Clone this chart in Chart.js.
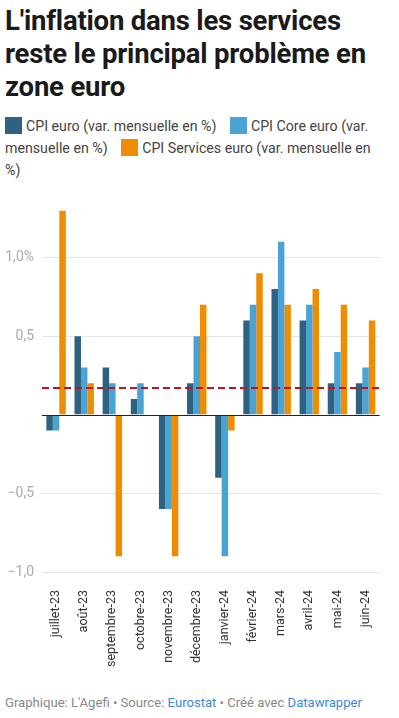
<!DOCTYPE html>
<html lang="fr">
<head>
<meta charset="utf-8">
<script src="https://cdn.jsdelivr.net/npm/chart.js@4"></script>
<style>
  body { margin: 0; width: 399px; height: 718px; background: #fff; font-family: Roboto, sans-serif; position: relative; overflow: hidden; }
  h1 { position: absolute; left: 5px; top: 4px; margin: 0; width: 390px; font-size: 27.5px; line-height: 33px; font-weight: 700; color: #1a1a1a; letter-spacing: -0.2px; }
  #legend { position: absolute; left: 5px; top: 115px; width: 385px; font-size: 14.2px; line-height: 22px; color: #444; }
  #legend .item { margin-right: 10px; }
  #legend .box { display: inline-block; width: 17px; height: 17px; vertical-align: -3px; margin-right: 4px; }
  #wrap { position: absolute; left: 0; top: 194px; width: 399px; height: 476px; }
  #footer { position: absolute; left: 5px; top: 695px; font-size: 13.1px; color: #888; }
  #footer a { color: #3b88d4; text-decoration: none; }
</style>
</head>
<body>
<h1>L'inflation dans les services reste le principal problème en zone euro</h1>
<div id="legend"></div>
<div id="wrap"><canvas id="chart"></canvas></div>
<div id="footer">Graphique: L'Agefi • Source: <a>Eurostat</a> • Créé avec <a>Datawrapper</a></div>
<script>
const categories = ['juillet-23', 'août-23', 'septembre-23', 'octobre-23', 'novembre-23', 'décembre-23',
    'janvier-24', 'février-24', 'mars-24', 'avril-24', 'mai-24', 'juin-24'];
const cpiEuro     = [-0.1, 0.5, 0.3, 0.1, -0.6, 0.2, -0.4, 0.6, 0.8, 0.6, 0.2, 0.2];
const cpiCore     = [-0.1, 0.3, 0.2, 0.2, -0.6, 0.5, -0.9, 0.7, 1.1, 0.7, 0.4, 0.3];
const cpiServices = [1.3, 0.2, -0.9, 0, -0.9, 0.7, -0.1, 0.9, 0.7, 0.8, 0.7, 0.6];
const seriesNames = ['CPI euro (var. mensuelle en %)', 'CPI Core euro (var. mensuelle en %)', 'CPI Services euro (var. mensuelle en %)'];
const yTicks = [-1, -0.5, 0, 0.5, 1];
const yTickLabels = ['\u22121,0', '\u22120,5', '', '0,5', '1,0%'];
const referenceValue = 0.17;

const colors = ['#2d6282', '#4aa3d2', '#ef8c00'];

// legende html
document.getElementById('legend').innerHTML = seriesNames.map((n, i) =>
    `<span class="item"><span class="box" style="background:${colors[i]}"></span>${n}</span>`).join(' ');

const overlay = {
    id: 'overlay',
    afterDatasetsDraw(chart) {
        const { ctx, chartArea, scales } = chart;
        ctx.save();
        // ligne zero
        const y0 = Math.round(scales.y.getPixelForValue(0)) + 0.5;
        ctx.strokeStyle = '#222';
        ctx.lineWidth = 1;
        ctx.beginPath();
        ctx.moveTo(chartArea.left, y0);
        ctx.lineTo(chartArea.right, y0);
        ctx.stroke();
        // ligne pointillee rouge
        const yr = scales.y.getPixelForValue(referenceValue);
        ctx.strokeStyle = '#c1121f';
        ctx.lineWidth = 2;
        ctx.setLineDash([7, 4]);
        ctx.beginPath();
        ctx.moveTo(chartArea.left, yr);
        ctx.lineTo(chartArea.right, yr);
        ctx.stroke();
        ctx.restore();
    }
};

new Chart(document.getElementById('chart'), {
    type: 'bar',
    data: {
        labels: categories,
        datasets: [cpiEuro, cpiCore, cpiServices].map((d, i) => ({
            label: seriesNames[i],
            data: d,
            backgroundColor: colors[i],
            barPercentage: 1,
            categoryPercentage: 0.69
        }))
    },
    options: {
        responsive: true,
        maintainAspectRatio: false,
        animation: false,
        layout: { padding: { top: 5, right: 10, left: 0, bottom: 0 } },
        plugins: { legend: { display: false }, tooltip: { enabled: false } },
        scales: {
            x: {
                afterFit(scale) { scale.height = 98; },
                grid: { display: false, drawTicks: false },
                border: { display: false },
                ticks: {
                    minRotation: 90, maxRotation: 90, autoSkip: false, padding: 18,
                    color: '#333', font: { family: 'Roboto', size: 12.5 }
                }
            },
            y: {
                min: -1.0,
                max: 1.3,
                afterBuildTicks(scale) { scale.ticks = yTicks.map(v => ({ value: v })); },
                afterFit(scale) { scale.width = 42; },
                grid: {
                    drawTicks: false,
                    color: ctx => ctx.tick && ctx.tick.value === 0 ? 'rgba(0,0,0,0)' : '#e5e5e5',
                    lineWidth: 1
                },
                border: { display: false },
                ticks: {
                    padding: 8,
                    color: '#aaa',
                    font: { family: 'Roboto', size: 14 },
                    callback: v => yTickLabels[yTicks.indexOf(v)]
                }
            }
        }
    },
    plugins: [overlay]
});
</script>
</body>
</html>
